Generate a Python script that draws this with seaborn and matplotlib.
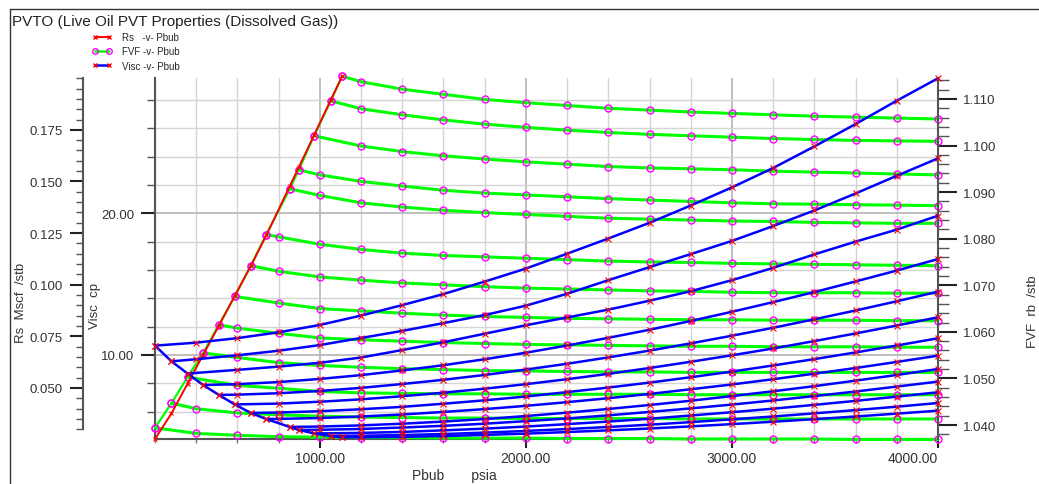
import numpy as np
import pandas as pd
import matplotlib
matplotlib.use("Agg")
import matplotlib.pyplot as plt
import seaborn as sns
from matplotlib.lines import Line2D
from matplotlib.ticker import MultipleLocator, FixedLocator, FormatStrFormatter
from matplotlib.legend_handler import HandlerLine2D

# saturated (bubble point) table
pbub = [200, 280, 358, 434, 510, 587, 665, 740, 854, 898, 972, 1053, 1108]
rs = [0.0253, 0.0377, 0.0521, 0.0661, 0.0802, 0.0946, 0.1091, 0.1239,
      0.1477, 0.1569, 0.1724, 0.1894, 0.2009]

# undersaturated pressures (each branch uses the ones above its Pbub)
p_grid = [400, 600, 800, 1000, 1200, 1400, 1600, 1800, 2000, 2200, 2400,
          2600, 2800, 3000, 3200, 3400, 3600, 3800, 4000]

# FVF branches, first value is the saturated one
fvf = [
    [1.0394, 1.0382, 1.0378, 1.0375, 1.0374, 1.0373, 1.0373, 1.0372, 1.0372, 1.0372,
     1.0371, 1.0371, 1.0371, 1.0370, 1.0370, 1.0370, 1.0370, 1.0369, 1.0369, 1.0369],
    [1.0447, 1.0435, 1.0426, 1.0422, 1.0419, 1.0417, 1.0416, 1.0415, 1.0415, 1.0414,
     1.0414, 1.0414, 1.0414, 1.0413, 1.0413, 1.0413, 1.0413, 1.0413, 1.0413, 1.0413],
    [1.0503, 1.0485, 1.0479, 1.0472, 1.0469, 1.0468, 1.0467, 1.0467, 1.0466, 1.0466,
     1.0466, 1.0466, 1.0465, 1.0465, 1.0465, 1.0465, 1.0465, 1.0465, 1.0465],
    [1.0555, 1.0545, 1.0534, 1.0528, 1.0524, 1.0521, 1.0519, 1.0517, 1.0516, 1.0515,
     1.0514, 1.0514, 1.0513, 1.0513, 1.0513, 1.0513, 1.0513, 1.0513, 1.0513],
    [1.0615, 1.0608, 1.0597, 1.0587, 1.0583, 1.0580, 1.0577, 1.0575, 1.0573, 1.0572,
     1.0571, 1.0570, 1.0569, 1.0569, 1.0568, 1.0568, 1.0568, 1.0567, 1.0567],
    [1.0676, 1.0662, 1.0650, 1.0645, 1.0640, 1.0636, 1.0633, 1.0631, 1.0629, 1.0628,
     1.0627, 1.0626, 1.0626, 1.0625, 1.0625, 1.0625, 1.0624, 1.0624],
    [1.0742, 1.0730, 1.0718, 1.0711, 1.0705, 1.0701, 1.0697, 1.0694, 1.0692, 1.0690,
     1.0688, 1.0687, 1.0685, 1.0684, 1.0684, 1.0684, 1.0683, 1.0683],
    [1.0809, 1.0804, 1.0788, 1.0777, 1.0769, 1.0764, 1.0761, 1.0758, 1.0755, 1.0752,
     1.0750, 1.0749, 1.0747, 1.0746, 1.0745, 1.0744, 1.0743, 1.0742],
    [1.0907, 1.0893, 1.0877, 1.0868, 1.0861, 1.0856, 1.0852, 1.0848, 1.0844, 1.0842,
     1.0840, 1.0838, 1.0837, 1.0835, 1.0834, 1.0833, 1.0833],
    [1.0948, 1.0937, 1.0923, 1.0913, 1.0904, 1.0898, 1.0894, 1.0890, 1.0886, 1.0883,
     1.0880, 1.0877, 1.0875, 1.0874, 1.0873, 1.0872, 1.0871],
    [1.1021, 1.0999, 1.0987, 1.0978, 1.0971, 1.0965, 1.0960, 1.0955, 1.0952, 1.0950,
     1.0948, 1.0945, 1.0943, 1.0941, 1.0939, 1.0937],
    [1.1096, 1.1079, 1.1066, 1.1055, 1.1046, 1.1039, 1.1033, 1.1028, 1.1024, 1.1021,
     1.1018, 1.1015, 1.1013, 1.1011, 1.1010, 1.1009],
    [1.1149, 1.1137, 1.1121, 1.1110, 1.1099, 1.1092, 1.1086, 1.1080, 1.1076, 1.1072,
     1.1069, 1.1066, 1.1063, 1.1061, 1.1059, 1.1057],
]

# viscosity branches (cp), first value is the saturated one
visc = [
    [10.66, 10.87, 11.19, 11.60, 12.12, 12.78, 13.52, 14.30, 15.18, 16.10,
     17.15, 18.22, 19.33, 20.55, 21.83, 23.20, 24.72, 26.30, 27.95, 29.53],
    [9.55, 9.70, 9.98, 10.30, 10.70, 11.20, 11.70, 12.25, 12.82, 13.48,
     14.32, 15.28, 16.20, 17.12, 18.05, 19.10, 20.20, 21.40, 22.65, 23.88],
    [8.69, 8.95, 9.18, 9.45, 9.82, 10.35, 10.90, 11.50, 12.10, 12.65,
     13.20, 13.83, 14.50, 15.28, 16.15, 17.10, 18.00, 18.85, 19.83],
    [7.88, 7.94, 8.09, 8.31, 8.58, 8.91, 9.28, 9.70, 10.16, 10.67,
     11.21, 11.78, 12.40, 13.05, 13.73, 14.44, 15.19, 15.96, 16.77],
    [7.18, 7.20, 7.30, 7.46, 7.68, 7.95, 8.25, 8.59, 8.97, 9.38,
     9.83, 10.31, 10.82, 11.36, 11.92, 12.52, 13.14, 13.79, 14.47],
    [6.51, 6.57, 6.70, 6.87, 7.09, 7.34, 7.62, 7.94, 8.29, 8.67,
     9.08, 9.52, 9.98, 10.46, 10.98, 11.52, 12.08, 12.66],
    [5.91, 5.94, 6.03, 6.17, 6.34, 6.56, 6.80, 7.07, 7.38, 7.70,
     8.05, 8.43, 8.83, 9.26, 9.71, 10.18, 10.67, 11.18],
    [5.48, 5.49, 5.55, 5.66, 5.80, 5.98, 6.18, 6.41, 6.67, 6.95,
     7.25, 7.58, 7.92, 8.29, 8.68, 9.08, 9.51, 9.95],
    [4.92, 4.95, 5.03, 5.15, 5.30, 5.48, 5.69, 5.93, 6.19, 6.47,
     6.77, 7.10, 7.44, 7.80, 8.19, 8.59, 9.01],
    [4.71, 4.72, 4.78, 4.88, 5.00, 5.15, 5.33, 5.52, 5.74, 5.98,
     6.23, 6.50, 6.79, 7.10, 7.42, 7.77, 8.12],
    [4.46, 4.50, 4.57, 4.68, 4.80, 4.95, 5.12, 5.30, 5.50, 5.73,
     5.96, 6.21, 6.48, 6.76, 7.06, 7.37],
    [4.28, 4.30, 4.35, 4.42, 4.52, 4.64, 4.77, 4.92, 5.08, 5.26,
     5.46, 5.66, 5.88, 6.11, 6.35, 6.61],
    [4.18, 4.19, 4.22, 4.28, 4.36, 4.45, 4.56, 4.68, 4.81, 4.96,
     5.12, 5.29, 5.47, 5.66, 5.86, 6.07],
]

rows = []
for i, pb in enumerate(pbub):
    pres = [pb] + [p for p in p_grid if p > pb + 50]
    for p, b, mu in zip(pres, fvf[i], visc[i]):
        rows.append({"branch": i, "P": p, "FVF": b, "Visc": mu})
df = pd.DataFrame(rows)
sat = df.groupby("branch").first().reset_index()
sat["Rs"] = rs

sns.set_theme(style="white")
plt.rcParams["font.family"] = ["Liberation Sans", "DejaVu Sans"]

W, H = 1039, 485
fig = plt.figure(figsize=(W / 100, H / 100), dpi=100)
rect = [155 / W, 1 - 440 / H, 783 / W, 361 / H]

GREEN, MAG, BLUE, RED = "#00ff00", "#ff00ff", "#0000ff", "#ff0000"
TXT = "#333333"

ax = fig.add_axes(rect)
ax_fvf = ax.twinx()
ax_rs = ax.twinx()
ax_mu = ax.twinx()

# FVF
sns.lineplot(data=df, x="P", y="FVF", units="branch", estimator=None, ax=ax_fvf,
             color=GREEN, lw=2.2, marker="o", ms=5, mfc="none", mec=MAG, mew=1,
             legend=False, clip_on=False)
sns.lineplot(data=sat, x="P", y="FVF", ax=ax_fvf, color=GREEN, lw=1.6, marker="o",
             ms=5, mfc="none", mec=MAG, mew=1, legend=False, clip_on=False)
# Rs
sns.lineplot(data=sat, x="P", y="Rs", ax=ax_rs, color=RED, lw=1.4, marker="x",
             ms=3.5, mec=RED, mew=0.8, legend=False, clip_on=False)
# viscosity
sns.lineplot(data=df, x="P", y="Visc", units="branch", estimator=None, ax=ax_mu,
             color=BLUE, lw=1.8, marker="x", ms=4, mec=RED, mew=0.8,
             legend=False, clip_on=False)
sns.lineplot(data=sat, x="P", y="Visc", ax=ax_mu, color=BLUE, lw=1.8, marker="x",
             ms=4, mec=RED, mew=0.8, legend=False, clip_on=False)

xlim = (200, 4000)
mu_lim = (4.07, 29.55)
for a in (ax, ax_fvf, ax_rs, ax_mu):
    a.set_xlim(*xlim)
    a.set_xlabel("")
    a.set_ylabel("")
    for s in a.spines.values():
        s.set_visible(False)
ax.set_ylim(*mu_lim)
ax_mu.set_ylim(*mu_lim)
ax_fvf.set_ylim(1.0370, 1.1145)
ax_rs.set_ylim(0.0253, 0.2001)

# base axes: grid, x axis and viscosity axis
ax.xaxis.set_major_locator(MultipleLocator(1000))
ax.xaxis.set_minor_locator(MultipleLocator(200))
ax.xaxis.set_major_formatter(FormatStrFormatter("%.2f"))
ax.yaxis.set_major_locator(FixedLocator([10, 20]))
ax.yaxis.set_minor_locator(MultipleLocator(2))
ax.yaxis.set_major_formatter(FormatStrFormatter("%.2f"))
ax.grid(True, which="minor", color="#d4d4d4", lw=1)
ax.grid(True, which="major", color="#b4b4b4", lw=1.2)
ax.spines["left"].set_visible(True)
ax.spines["bottom"].set_visible(True)
for s in ("left", "bottom"):
    ax.spines[s].set_color("#555555")
    ax.spines[s].set_linewidth(1.5)
ax.tick_params(axis="x", which="major", direction="out", length=6.5, width=1.5,
               color="#222222", labelsize=10, labelcolor=TXT, pad=2, bottom=True)
ax.tick_params(axis="x", which="minor", direction="out", length=3, width=1,
               color="#777777", bottom=True)
ax.tick_params(axis="y", which="major", direction="out", length=10, width=1.5,
               color="#222222", labelsize=9.5, labelcolor=TXT, pad=5, left=True)
ax.tick_params(axis="y", which="minor", direction="out", length=6, width=1,
               color="#555555", left=True)
ax.patch.set_facecolor("white")

# FVF axis on the right
ax_fvf.spines["right"].set_visible(True)
ax_fvf.spines["right"].set_color("#555555")
ax_fvf.spines["right"].set_linewidth(1.5)
ax_fvf.yaxis.set_major_locator(MultipleLocator(0.01))
ax_fvf.yaxis.set_minor_locator(MultipleLocator(0.002))
ax_fvf.yaxis.set_major_formatter(FormatStrFormatter("%.3f"))
ax_fvf.tick_params(axis="y", which="major", direction="out", length=14, width=1.5,
                   color="#222222", labelsize=9.5, labelcolor=TXT, pad=4, right=True)
ax_fvf.tick_params(axis="y", which="minor", direction="out", length=8, width=1,
                   color="#555555", right=True)
ax_fvf.tick_params(axis="x", bottom=False, labelbottom=False)

# Rs axis, offset to the left
ax_rs.yaxis.set_label_position("left")
ax_rs.yaxis.set_ticks_position("left")
ax_rs.spines["left"].set_visible(True)
ax_rs.spines["left"].set_position(("axes", -72 / 783))
ax_rs.spines["left"].set_color("#555555")
ax_rs.spines["left"].set_linewidth(1.5)
ax_rs.spines["left"].set_bounds(0.030, 0.200)
ax_rs.yaxis.set_major_locator(FixedLocator([0.05, 0.075, 0.1, 0.125, 0.15, 0.175]))
ax_rs.yaxis.set_minor_locator(FixedLocator([0.03 + 0.005 * k for k in range(35)]))
ax_rs.yaxis.set_major_formatter(FormatStrFormatter("%.3f"))
ax_rs.tick_params(axis="y", which="major", direction="out", length=9.5, width=1.5,
                  color="#222222", labelsize=9.5, labelcolor=TXT, pad=5, left=True,
                  right=False, labelleft=True, labelright=False)
ax_rs.tick_params(axis="y", which="minor", direction="out", length=5, width=1,
                  color="#555555", left=True, right=False)
ax_rs.tick_params(axis="x", bottom=False, labelbottom=False)

ax_mu.tick_params(axis="both", which="both", left=False, right=False, bottom=False,
                  labelleft=False, labelright=False, labelbottom=False)

# axis titles
fig.text(21 / W, 1 - 303 / H, "Rs  Mscf  /stb", rotation=90, ha="center", va="center",
         fontsize=9.5, color=TXT)
fig.text(95 / W, 1 - 306 / H, "Visc  cp", rotation=90, ha="center", va="center",
         fontsize=9.5, color=TXT)
fig.text(1033 / W, 1 - 312 / H, "FVF  rb  /stb", rotation=90, ha="center", va="center",
         fontsize=9.5, color=TXT)
fig.text(412 / W, 1 - 476 / H, "Pbub       psia", ha="left", va="center",
         fontsize=10, color=TXT)

fig.text(12 / W, 1 - 22 / H, "PVTO (Live Oil PVT Properties (Dissolved Gas))",
         ha="left", va="center", fontsize=11, color="#222222")

# frame
fig.add_artist(Line2D([10 / W, 10 / W], [0, 1 - 10 / H], transform=fig.transFigure,
                      color="#333333", lw=1))
fig.add_artist(Line2D([10 / W, 1], [1 - 10 / H, 1 - 10 / H], transform=fig.transFigure,
                      color="#333333", lw=1))

handles = [
    Line2D([], [], color=RED, lw=1.4, marker="x", ms=3.5, mec=RED),
    Line2D([], [], color=GREEN, lw=1.8, marker="o", ms=4, mfc="none", mec=MAG),
    Line2D([], [], color=BLUE, lw=1.8, marker="x", ms=3.5, mec=RED),
]
labels = ["Rs   -v- Pbub", "FVF -v- Pbub", "Visc -v- Pbub"]
fig.legend(handles, labels, loc="upper left", bbox_to_anchor=(85 / W, 1 - 33 / H),
           frameon=False, fontsize=7, handlelength=3.5, handletextpad=0.3,
           labelspacing=0.45, borderaxespad=0, borderpad=0,
           handler_map={Line2D: HandlerLine2D(numpoints=2, marker_pad=1.0)})

# last x label sits inside the plot edge
fig.canvas.draw()
for t in ax.xaxis.get_major_ticks():
    if t.label1.get_text() == "4000.00":
        t.label1.set_horizontalalignment("right")

fig.savefig("out.png", dpi=100)
